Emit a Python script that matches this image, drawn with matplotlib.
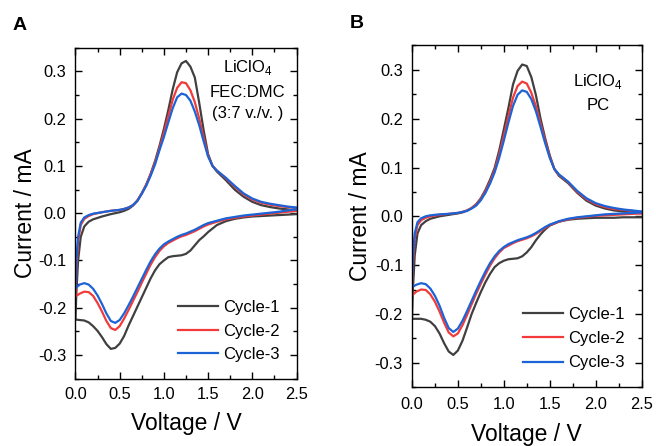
import matplotlib
matplotlib.use("Agg")
import matplotlib.pyplot as plt
from matplotlib.ticker import MultipleLocator

plt.rcParams['font.family'] = ['Liberation Sans', 'DejaVu Sans']
plt.rcParams['mathtext.fontset'] = 'custom'
plt.rcParams['mathtext.rm'] = 'Liberation Sans'

# ---------------- data ----------------
# anodic sweep (0 -> 2.5 V) voltage grid
V_up = [0.0, 0.01, 0.03, 0.06, 0.1, 0.15, 0.2, 0.3, 0.4, 0.5, 0.55, 0.6, 0.65, 0.7, 0.75,
        0.8, 0.85, 0.9, 0.95, 1.0, 1.05, 1.1, 1.15, 1.2, 1.25, 1.3, 1.35, 1.4, 1.45, 1.5,
        1.55, 1.6, 1.7, 1.8, 1.9, 2.0, 2.1, 2.2, 2.3, 2.4, 2.5]
# cathodic sweep (2.5 -> 0 V) voltage grid
V_dn = [2.5, 2.4, 2.3, 2.2, 2.1, 2.0, 1.9, 1.8, 1.7, 1.6, 1.5, 1.45, 1.4, 1.35, 1.3,
        1.25, 1.2, 1.15, 1.1, 1.05, 1.0, 0.95, 0.9, 0.85, 0.8, 0.75, 0.7, 0.65, 0.6,
        0.55, 0.5, 0.45, 0.4, 0.35, 0.3, 0.25, 0.2, 0.15, 0.1, 0.05, 0.0]

# Panel A: LiClO4 FEC:DMC
A_c1_up = [-0.225, -0.17, -0.10, -0.05, -0.028, -0.018, -0.013, -0.007, -0.002, 0.002, 0.005,
           0.009, 0.016, 0.026, 0.042, 0.060, 0.083, 0.110, 0.142, 0.178, 0.218, 0.262, 0.298,
           0.317, 0.322, 0.310, 0.287, 0.233, 0.175, 0.125, 0.10, 0.088, 0.070, 0.050, 0.035,
           0.024, 0.017, 0.013, 0.010, 0.008, 0.006]
A_c2_up = [-0.176, -0.12, -0.06, -0.025, -0.012, -0.006, -0.002, 0.002, 0.005, 0.007, 0.009,
           0.012, 0.017, 0.027, 0.042, 0.060, 0.082, 0.107, 0.137, 0.170, 0.205, 0.240, 0.265,
           0.277, 0.275, 0.260, 0.235, 0.200, 0.160, 0.122, 0.10, 0.09, 0.074, 0.056, 0.040,
           0.029, 0.022, 0.018, 0.015, 0.013, 0.011]
A_c3_up = [-0.158, -0.10, -0.05, -0.02, -0.009, -0.004, -0.001, 0.002, 0.005, 0.007, 0.009,
           0.012, 0.017, 0.026, 0.041, 0.058, 0.079, 0.103, 0.133, 0.161, 0.192, 0.222, 0.245,
           0.253, 0.250, 0.238, 0.215, 0.186, 0.152, 0.120, 0.10, 0.09, 0.075, 0.058, 0.042,
           0.031, 0.024, 0.020, 0.017, 0.014, 0.012]
A_c1_dn = [-0.002, -0.003, -0.004, -0.005, -0.006, -0.007, -0.009, -0.012, -0.017, -0.025,
           -0.040, -0.049, -0.057, -0.068, -0.079, -0.086, -0.089, -0.090, -0.091, -0.093,
           -0.100, -0.108, -0.121, -0.138, -0.158, -0.178, -0.198, -0.218, -0.238, -0.260,
           -0.276, -0.285, -0.287, -0.277, -0.262, -0.249, -0.239, -0.231, -0.227, -0.226,
           -0.225]
A_c2_dn = [0.005, 0.003, 0.001, -0.001, -0.003, -0.005, -0.007, -0.010, -0.013, -0.018,
           -0.024, -0.028, -0.033, -0.038, -0.042, -0.046, -0.049, -0.053, -0.058, -0.063,
           -0.070, -0.080, -0.093, -0.109, -0.128, -0.147, -0.167, -0.186, -0.205, -0.223,
           -0.239, -0.247, -0.243, -0.228, -0.208, -0.190, -0.175, -0.167, -0.166, -0.170,
           -0.176]
A_c3_dn = [0.008, 0.006, 0.003, 0.001, -0.001, -0.003, -0.005, -0.008, -0.011, -0.016,
           -0.021, -0.025, -0.030, -0.035, -0.039, -0.043, -0.046, -0.050, -0.055, -0.060,
           -0.066, -0.075, -0.087, -0.102, -0.120, -0.139, -0.158, -0.177, -0.195, -0.212,
           -0.226, -0.232, -0.228, -0.212, -0.192, -0.174, -0.160, -0.151, -0.148, -0.151,
           -0.158]

# Panel B: LiClO4 PC
B_c1_up = [-0.21, -0.15, -0.08, -0.035, -0.018, -0.010, -0.005, 0.0, 0.003, 0.006, 0.008,
           0.012, 0.017, 0.025, 0.037, 0.054, 0.075, 0.099, 0.135, 0.178, 0.222, 0.270, 0.298,
           0.311, 0.308, 0.285, 0.248, 0.200, 0.160, 0.125, 0.097, 0.083, 0.068, 0.048, 0.032,
           0.022, 0.016, 0.012, 0.010, 0.008, 0.006]
B_c2_up = [-0.162, -0.10, -0.045, -0.018, -0.008, -0.003, 0.0, 0.003, 0.005, 0.007, 0.009,
           0.012, 0.017, 0.024, 0.035, 0.051, 0.071, 0.094, 0.127, 0.165, 0.205, 0.243, 0.267,
           0.276, 0.272, 0.253, 0.225, 0.190, 0.155, 0.122, 0.097, 0.085, 0.070, 0.050, 0.035,
           0.025, 0.019, 0.015, 0.013, 0.011, 0.009]
B_c3_up = [-0.145, -0.085, -0.035, -0.012, -0.004, 0.0, 0.002, 0.004, 0.005, 0.007, 0.009,
           0.011, 0.016, 0.022, 0.033, 0.048, 0.067, 0.090, 0.120, 0.155, 0.192, 0.226, 0.249,
           0.258, 0.255, 0.240, 0.215, 0.183, 0.150, 0.120, 0.097, 0.086, 0.071, 0.052, 0.037,
           0.027, 0.021, 0.017, 0.014, 0.012, 0.010]
B_c1_dn = [-0.002, -0.002, -0.002, -0.003, -0.003, -0.003, -0.004, -0.005, -0.007, -0.011,
           -0.019, -0.027, -0.037, -0.049, -0.063, -0.074, -0.082, -0.086, -0.087, -0.088,
           -0.091, -0.096, -0.104, -0.118, -0.135, -0.155, -0.177, -0.200, -0.228, -0.255,
           -0.275, -0.284, -0.277, -0.260, -0.240, -0.225, -0.216, -0.212, -0.210, -0.210,
           -0.210]
B_c2_dn = [0.006, 0.005, 0.004, 0.003, 0.002, 0.001, -0.001, -0.003, -0.006, -0.011,
           -0.018, -0.024, -0.030, -0.036, -0.041, -0.045, -0.048, -0.051, -0.055, -0.060,
           -0.065, -0.074, -0.086, -0.101, -0.119, -0.138, -0.158, -0.180, -0.202, -0.223,
           -0.240, -0.246, -0.238, -0.218, -0.195, -0.175, -0.160, -0.151, -0.150, -0.154,
           -0.162]
B_c3_dn = [0.008, 0.007, 0.006, 0.005, 0.004, 0.002, 0.0, -0.002, -0.005, -0.010,
           -0.017, -0.022, -0.028, -0.034, -0.039, -0.043, -0.046, -0.049, -0.053, -0.057,
           -0.063, -0.071, -0.082, -0.096, -0.113, -0.132, -0.152, -0.173, -0.194, -0.214,
           -0.230, -0.237, -0.229, -0.208, -0.183, -0.163, -0.148, -0.139, -0.137, -0.140,
           -0.145]

cycle_labels = ["Cycle-1", "Cycle-2", "Cycle-3"]
colors = ["#404040", "#f23a3a", "#1c63d6"]
x_ticks = [0.0, 0.5, 1.0, 1.5, 2.0, 2.5]
y_ticks = [-0.3, -0.2, -0.1, 0.0, 0.1, 0.2, 0.3]

fig = plt.figure(figsize=(6.56, 4.46), dpi=100)
axA = fig.add_axes([0.115, 0.151, 0.337, 0.742])
axB = fig.add_axes([0.628, 0.132, 0.350, 0.766])

panels = [
    (axA, [(A_c1_dn, A_c1_up), (A_c2_dn, A_c2_up), (A_c3_dn, A_c3_up)], 6.0, 7.0, 0.5, 1.0),
    (axB, [(B_c1_dn, B_c1_up), (B_c2_dn, B_c2_up), (B_c3_dn, B_c3_up)], 7.0, 8.0, 0.55, 2.0),
]

for ax, cycles, xpad, xlabpad, lspace, ylabpad in panels:
    for (dn, up), col, lab in zip(cycles, colors, cycle_labels):
        ax.plot(list(V_dn) + list(V_up), list(dn) + list(up), color=col, lw=1.6, label=lab)
    ax.set_xlim(0, 2.5)
    ax.set_ylim(-0.35, 0.35)
    ax.set_xticks(x_ticks)
    ax.set_yticks(y_ticks)
    ax.set_xticklabels([f"{t:.1f}" for t in x_ticks])
    ax.set_yticklabels([f"{t:.1f}" for t in y_ticks])
    ax.xaxis.set_minor_locator(MultipleLocator(0.25))
    ax.yaxis.set_minor_locator(MultipleLocator(0.05))
    ax.tick_params(which='both', direction='in', top=True, right=True, width=1)
    ax.tick_params(which='major', length=5, labelsize=11.8)
    ax.tick_params(which='minor', length=3)
    ax.tick_params(axis='x', which='major', pad=xpad)
    ax.tick_params(axis='y', which='major', pad=6.5)
    for s in ax.spines.values():
        s.set_linewidth(1.0)
    ax.set_xlabel("Voltage / V", fontsize=16.5, labelpad=xlabpad)
    ax.set_ylabel("Current / mA", fontsize=16.5, labelpad=ylabpad)
    ax.legend(loc='lower right', frameon=False, fontsize=12, handlelength=2.4,
              labelspacing=lspace, borderaxespad=0.6, handletextpad=0.3)

axA.text(0.78, 0.94, r"LiClO$_\mathregular{4}$", transform=axA.transAxes, ha='center', va='center', fontsize=12)
axA.text(0.78, 0.866, "FEC:DMC", transform=axA.transAxes, ha='center', va='center', fontsize=12)
axA.text(0.78, 0.80, "(3:7 v./v. )", transform=axA.transAxes, ha='center', va='center', fontsize=12)
axB.text(0.81, 0.894, r"LiClO$_\mathregular{4}$", transform=axB.transAxes, ha='center', va='center', fontsize=12)
axB.text(0.81, 0.823, "PC", transform=axB.transAxes, ha='center', va='center', fontsize=12)

fig.text(20 / 656, 1 - 25 / 446, "A", fontsize=14, fontweight='bold', ha='center', va='center')
fig.text(357 / 656, 1 - 24 / 446, "B", fontsize=14, fontweight='bold', ha='center', va='center')

fig.savefig("out.png", dpi=100)
